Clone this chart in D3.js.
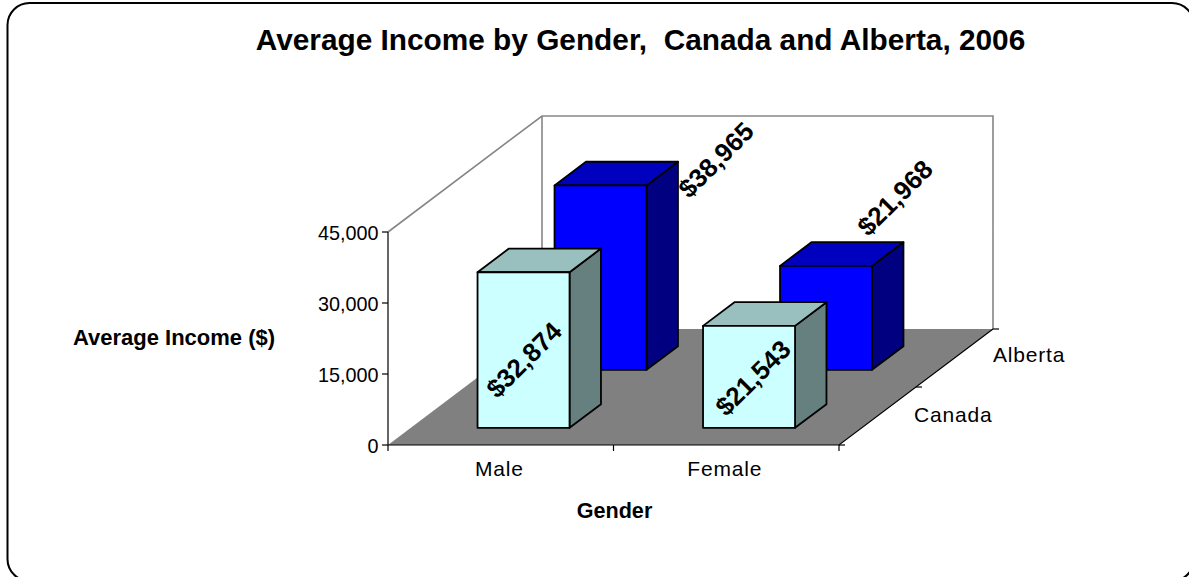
<!DOCTYPE html>
<html><head><meta charset="utf-8">
<style>html,body{margin:0;padding:0;background:#fff;overflow:hidden}svg{display:block}text{font-family:"Liberation Sans",Arial,sans-serif;fill:#000;white-space:pre}</style>
<script src="https://cdnjs.cloudflare.com/ajax/libs/d3/7.8.5/d3.min.js"></script>
</head><body><svg id="c" width="1189" height="577"></svg>
<script>
const genders = ["Male", "Female"];
const regions = ["Canada", "Alberta"];
const canadaValues = [32874, 21543];
const albertaValues = [38965, 21968];
const valueTicks = [0, 15000, 30000, 45000];
const title = "Average Income by Gender,  Canada and Alberta, 2006";
const yTitle = "Average Income ($)";
const xTitle = "Gender";

const svg = d3.select("#c");
const fmtTick = d3.format(",");
const fmtLabel = d3.format("$,");

// oblique projection
const sx = d3.scaleLinear().domain([0, genders.length]).range([388, 839]);
const depthX = d3.scaleLinear().domain([0, regions.length]).range([0, 154]);
const depthY = d3.scaleLinear().domain([0, regions.length]).range([0, -116]);
const sy = d3.scaleLinear().domain([0, 45000]).range([445, 232]);
const P = (g, r, v) => [sx(g) + depthX(r), sy(v) + depthY(r)];
const poly = pts => "M" + pts.map(p => p.join(",")).join("L") + "Z";
const line = pts => "M" + pts.map(p => p.join(",")).join("L");

svg.append("rect").attr("x", 7.5).attr("y", 3).attr("width", 1186.5).attr("height", 578)
  .attr("rx", 22).attr("fill", "#fff").attr("stroke", "#000").attr("stroke-width", 2);

svg.append("text").attr("x", 640.5).attr("y", 50).attr("text-anchor", "middle")
  .attr("font-size", 29.8).attr("font-weight", "bold").text(title);

// walls
const wall = "#868686";
svg.append("path").attr("fill", "none").attr("stroke", wall).attr("stroke-width", 1.6)
  .attr("d", line([P(0,0,45000), P(0,2,45000), P(2,2,45000), P(2,2,0)]));
svg.append("path").attr("fill", "none").attr("stroke", wall).attr("stroke-width", 1.6)
  .attr("d", line([P(0,2,45000), P(0,2,0)]));
// floor
svg.append("path").attr("fill", "#808080").attr("d", poly([P(0,0,0), P(2,0,0), P(2,2,0), P(0,2,0)]));

// axes
const ax = svg.append("g").attr("stroke", "#000").attr("stroke-width", 1.2).attr("fill", "none");
ax.append("path").attr("d", line([P(0,0,45000), P(0,0,0), P(2,0,0), P(2,2,0)]));
valueTicks.forEach(v => ax.append("path").attr("d", line([[P(0,0,v)[0]-6, sy(v)], [P(0,0,v)[0], sy(v)]])));
[0,1,2].forEach(g => ax.append("path").attr("d", line([P(g,0,0), [sx(g), sy(0)+6]])));
[0,1,2].forEach(r => { const p = P(2,r,0); ax.append("path").attr("d", line([p, [p[0]+6, p[1]]])); });

valueTicks.forEach(v => svg.append("text").attr("x", 378.5).attr("y", sy(v)+7.5).attr("text-anchor", "end")
  .attr("font-size", 19.8).text(fmtTick(v)));
genders.forEach((g,i) => svg.append("text").attr("x", sx(i+0.5)-1.5).attr("y", 476).attr("text-anchor", "middle")
  .attr("font-size", 21).attr("letter-spacing", 0.8).text(g));
regions.forEach((r,i) => { const p = P(2, i+0.5, 0);
  svg.append("text").attr("x", p[0]+ (i?38.5:36.5)).attr("y", p[1]+ (i?4:6)).attr("font-size", 21).attr("letter-spacing", 0.8).attr("text-anchor","start")
  .text(r); });
svg.append("text").attr("x", 174).attr("y", 345).attr("text-anchor", "middle").attr("font-size", 22).attr("font-weight", "bold").text(yTitle);
svg.append("text").attr("x", 614.5).attr("y", 518).attr("text-anchor", "middle").attr("font-size", 21.6).attr("font-weight", "bold").text(xTitle);

// bars
const gap = 0.296;
const palette = [
  {front:"#CCFFFF", top:"#99BFBF", side:"#668080"},
  {front:"#0000FF", top:"#0000BF", side:"#000080"}
];
const seriesValues = [canadaValues, albertaValues];
function bar(g, r) {
  const v = seriesValues[r][g], c = palette[r];
  const g0 = g + gap, g1 = g + 1 - gap, r0 = r + gap, r1 = r + 1 - gap;
  const gb = svg.append("g").attr("stroke", "#000").attr("stroke-width", 1.8).attr("stroke-linejoin", "round");
  gb.append("path").attr("fill", c.side).attr("d", poly([P(g1,r0,0), P(g1,r1,0), P(g1,r1,v), P(g1,r0,v)]));
  gb.append("path").attr("fill", c.top).attr("d", poly([P(g0,r0,v), P(g1,r0,v), P(g1,r1,v), P(g0,r1,v)]));
  gb.append("path").attr("fill", c.front).attr("d", poly([P(g0,r0,0), P(g1,r0,0), P(g1,r0,v), P(g0,r0,v)]));
}
[1,0].forEach(r => [0,1].forEach(g => bar(g, r)));

// rotated value labels
function label(g, r, cx, cy) {
  svg.append("text").attr("transform", `translate(${cx},${cy}) rotate(-45)`)
    .attr("text-anchor", "middle").attr("dominant-baseline", "central")
    .attr("font-size", 26).attr("font-weight", "bold").text(fmtLabel(seriesValues[r][g]));
}
label(0, 0, 524, 360);
label(1, 0, 753, 378);
label(0, 1, 716, 160);
label(1, 1, 895, 198);
</script></body></html>
